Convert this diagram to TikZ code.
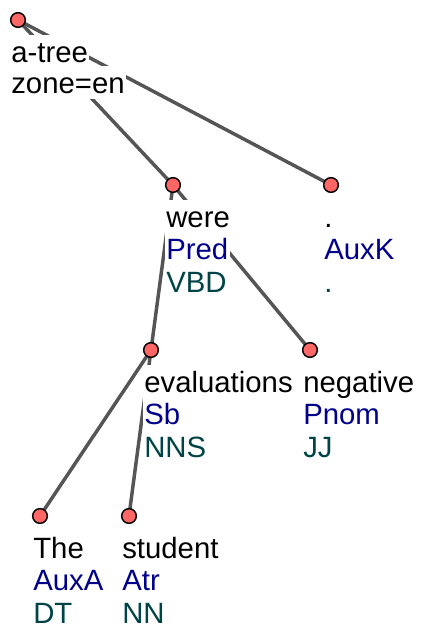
\documentclass[tikz,border=0pt]{standalone}
\usepackage{fontspec}
\setmainfont{Liberation Sans}
\usetikzlibrary{calc,backgrounds}
\definecolor{nodeRed}{RGB}{255,102,102}
\definecolor{edgeGray}{RGB}{85,85,85}
\definecolor{afunBlue}{RGB}{0,0,139}
\definecolor{tagTeal}{RGB}{0,68,72}

% three text rows under a tree node: word, afun, tag
\newcommand{\treelabel}[4]{%
  \node[word] (#1W) at ($(#1)+(-8.3,42)$) {#2};
  \node[afun] (#1A) at ($(#1)+(-8.3,74.5)$) {#3};
  \node[tag] (#1T) at ($(#1)+(-8.3,107)$) {#4};
}

\begin{document}
\begin{tikzpicture}[
      x=0.75pt, y=-0.75pt,
      dot/.style={circle, draw=black, line width=1.1pt, fill=nodeRed, minimum size=11pt, inner sep=0},
      edge/.style={edgeGray, line width=2.6pt},
      lbl/.style={anchor=base west, fill=white, inner xsep=1pt, inner ysep=0pt,
                  text height=19.9pt, text depth=4.7pt, font=\fontsize{22}{24}\selectfont},
      word/.style={lbl, text=black},
      afun/.style={lbl, text=afunBlue},
      tag/.style={lbl, text=tagTeal}
    ]

    \useasboundingbox (0,0) rectangle (421,633);

    % -------- tree nodes --------
    \node[dot] (root) at (18,20) {};
    \node[dot] (were) at (173,185) {};
    \node[dot] (period) at (331,185) {};
    \node[dot] (evaluations) at (151,350) {};
    \node[dot] (negative) at (310,350) {};
    \node[dot] (the) at (40,516) {};
    \node[dot] (student) at (129,516) {};

    % -------- edges (behind everything) --------
    \begin{scope}[on background layer]
      \draw[edge] (root.center) -- (were.center);
      \draw[edge] (root.center) -- (period.center);
      \draw[edge] (were.center) -- (evaluations.center);
      \draw[edge] (were.center) -- (negative.center);
      \draw[edge] (evaluations.center) -- (the.center);
      \draw[edge] (evaluations.center) -- (student.center);
    \end{scope}

    % -------- labels --------
    \node[word] (rootW) at ($(root)+(-8.3,42)$) {a-tree};
    \node[word] (rootZ) at ($(root)+(-8.3,73)$) {zone=en};

    \treelabel{were}{were}{Pred}{VBD}
    \treelabel{period}{.}{AuxK}{.}
    \treelabel{evaluations}{evaluations}{Sb}{NNS}
    \treelabel{negative}{negative}{Pnom}{JJ}
    \treelabel{the}{The}{AuxA}{DT}
    \treelabel{student}{student}{Atr}{NN}

\end{tikzpicture}
\end{document}
